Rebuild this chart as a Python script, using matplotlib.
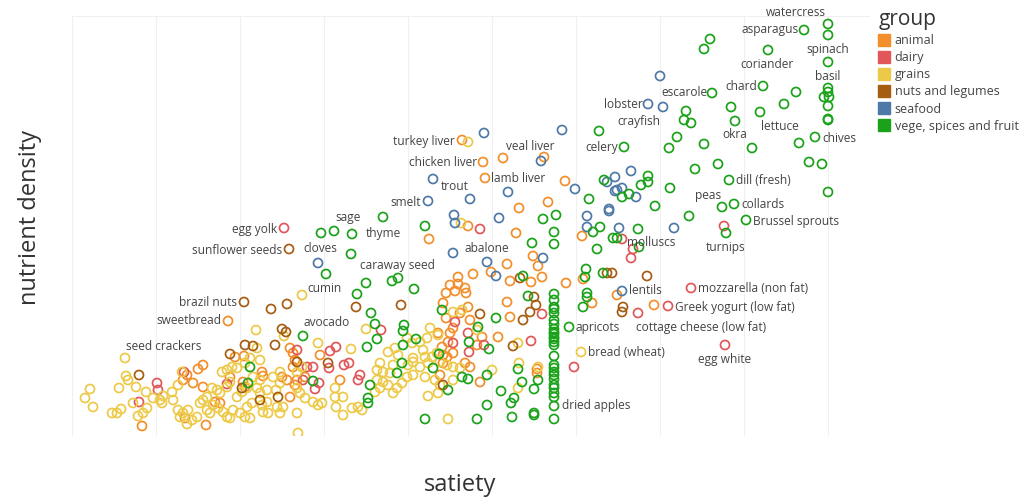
import numpy as np
import matplotlib.pyplot as plt
from matplotlib.lines import Line2D

plt.rcParams['font.family'] = ['Open Sans', 'DejaVu Sans']

# (satiety, nutrient density) per food group
vege = [(75.6, 41.2), (75.6, 40.1), (73.2, 40.6), (63.8, 39.7), (63.2, 38.7), (69.6, 38.6),
        (75.6, 37.4), (69.1, 35.0), (64.0, 34.3), (72.4, 34.4), (75.6, 34.8), (75.6, 34.4),
        (75.2, 33.9), (75.7, 33.9), (75.6, 33.0), (75.6, 31.7), (75.6, 31.6), (71.2, 33.2),
        (65.9, 32.9), (68.8, 32.4), (61.4, 32.5), (61.2, 31.6), (61.9, 31.3), (66.3, 31.5),
        (60.5, 29.9), (59.7, 28.8), (63.2, 29.2), (68.0, 28.8), (72.7, 29.3), (74.3, 29.9),
        (55.2, 28.9), (52.7, 30.5), (73.7, 27.4), (75.0, 27.2), (64.6, 27.2), (62.3, 26.7),
        (65.7, 25.6), (59.8, 24.8), (57.6, 26.0), (57.6, 25.4), (56.9, 25.1), (75.6, 24.4),
        (53.2, 25.6), (55.7, 24.2), (55.0, 23.9), (51.7, 23.7), (58.3, 23.0), (65.0, 22.9),
        (66.2, 23.2), (61.7, 22.0), (67.4, 21.6), (65.4, 20.3), (56.6, 20.7), (52.8, 20.9),
        (52.1, 20.4), (54.1, 19.8), (54.5, 19.8), (52.5, 18.7), (56.7, 18.9), (51.4, 16.7),
        (51.3, 15.9), (53.1, 16.3), (51.5, 14.3), (51.5, 13.9), (51.1, 12.9), (49.7, 10.9),
        (47.1, 21.7), (48.4, 22.1), (48.2, 20.4), (48.2, 19.2), (46.0, 19.3), (45.1, 16.0),
        (31.1, 21.9), (35.3, 21.0), (24.9, 20.3), (26.2, 20.5), (28.0, 20.2), (27.9, 18.2),
        (25.4, 16.2), (29.4, 15.3), (32.0, 15.5), (32.6, 15.8), (34.2, 14.7), (28.5, 14.2),
        (29.9, 12.3), (30.3, 11.2), (33.2, 11.1), (33.1, 10.5), (23.1, 10.0), (30.5, 9.7),
        (29.5, 8.9), (33.1, 9.1), (34.4, 9.7), (33.0, 7.3), (32.5, 6.3), (29.8, 5.1),
        (29.6, 3.8), (29.6, 3.3), (24.1, 5.5), (35.3, 1.7), (40.5, 1.7), (36.7, 8.2),
        (36.1, 6.8), (39.0, 5.9), (39.6, 5.7), (37.6, 4.6), (39.7, 9.4), (17.8, 6.9),
        (17.6, 5.3), (45.6, 14.0), (42.4, 11.8), (40.6, 10.9), (41.7, 8.7), (37.0, 12.6),
        (44.6, 6.7), (41.5, 6.1), (45.0, 5.4), (46.6, 5.6), (46.2, 4.7), (42.9, 4.5),
        (44.2, 3.8), (43.9, 3.3), (41.5, 3.1), (46.2, 2.3), (46.2, 2.1), (44.0, 1.9),
        (48.2, 14.2), (48.2, 13.6), (48.2, 12.9), (48.2, 12.7), (48.2, 12.3), (48.2, 11.6),
        (48.2, 11.2), (48.2, 10.7), (48.2, 10.4), (48.2, 10.2), (48.2, 9.9), (48.2, 9.7),
        (48.2, 9.4), (48.2, 9.1), (48.2, 8.0), (48.2, 7.1), (48.2, 6.8), (48.2, 6.4),
        (48.2, 6.1), (48.2, 5.7), (48.2, 5.1), (48.2, 4.8), (48.2, 4.3), (48.2, 3.9),
        (48.2, 3.0), (48.2, 1.7)]

dairy = [(21.2, 20.8), (40.8, 20.7), (65.2, 21.0), (55.0, 19.7), (56.1, 18.7), (55.9, 17.8),
         (61.9, 14.8), (59.6, 13.0), (56.6, 12.3), (65.3, 9.1), (47.0, 12.2), (45.9, 9.5),
         (41.2, 9.1), (50.2, 6.9), (38.3, 11.4), (39.6, 10.3), (30.9, 10.6), (6.7, 3.4),
         (8.5, 5.3), (8.6, 4.6), (11.2, 6.4), (15.5, 5.2), (22.5, 8.6), (23.5, 6.9),
         (23.1, 5.6), (25.8, 8.5), (26.4, 8.9), (24.1, 6.9), (27.2, 7.1), (27.7, 7.3),
         (28.8, 6.1), (28.6, 5.6), (24.3, 4.7), (24.7, 5.3), (25.7, 6.8), (38.1, 9.3),
         (39.7, 8.4)]

seafood = [(58.8, 36.0), (57.6, 33.2), (59.1, 32.9), (41.2, 30.3), (49.0, 30.6), (46.9, 27.5),
           (36.1, 25.7), (43.6, 24.4), (39.8, 23.7), (35.6, 23.5), (50.3, 24.7), (38.2, 22.1),
           (38.3, 21.3), (42.7, 21.8), (38.1, 18.3), (41.5, 17.4), (42.4, 16.0), (47.1, 17.8),
           (51.5, 22.0), (51.5, 20.9), (24.6, 17.3), (55.9, 26.5), (54.3, 25.9), (53.5, 25.4),
           (54.3, 24.5), (55.0, 24.8), (54.5, 24.6), (56.4, 23.9), (53.7, 22.7), (53.7, 22.5),
           (54.7, 20.8), (60.2, 20.8), (55.0, 14.5)]

animal = [(39.0, 29.6), (41.1, 27.4), (43.1, 27.8), (47.2, 27.9), (41.3, 25.8), (49.3, 25.5),
          (47.6, 23.4), (44.7, 22.8), (39.6, 21.0), (35.7, 19.7), (44.4, 20.3), (51.0, 20.0),
          (46.1, 18.0), (43.5, 17.2), (46.6, 17.0), (41.9, 16.4), (40.1, 16.2), (38.6, 15.9),
          (43.8, 15.5), (45.9, 15.4), (47.0, 15.9), (49.4, 15.3), (51.1, 15.7), (54.5, 14.1),
          (58.2, 13.1), (52.0, 13.3), (46.5, 6.7), (46.5, 6.3), (43.5, 13.4), (43.8, 11.9),
          (42.6, 9.9), (41.0, 9.9), (39.8, 6.9), (40.8, 5.4), (15.6, 11.5),
          (37.4, 14.3), (37.8, 15.1), (38.6, 15.2), (38.3, 14.5), (39.3, 14.8), (39.4, 14.3),
          (37.1, 13.3), (37.4, 11.8), (39.8, 11.6), (38.1, 10.8), (39.6, 12.9), (38.8, 12.3),
          (37.8, 10.3), (37.6, 9.4), (37.0, 8.9), (37.1, 8.1), (37.5, 7.9), (36.8, 6.1),
          (37.1, 7.3), (38.1, 8.3), (36.6, 10.3), (39.3, 7.3), (40.5, 9.1),
          (7.0, 1.0), (11.3, 1.8), (13.4, 1.1), (11.1, 5.6), (11.5, 6.1), (12.6, 6.7),
          (13.1, 7.1), (12.1, 5.3), (15.8, 5.9), (14.3, 3.4), (14.8, 3.3), (19.1, 6.0),
          (19.0, 6.4), (17.1, 5.4), (17.3, 4.9), (21.8, 8.8), (22.1, 8.3), (22.3, 7.6),
          (22.1, 6.9), (21.8, 3.9), (21.0, 5.9), (21.5, 5.6), (16.3, 7.9), (17.2, 8.0),
          (13.1, 4.9), (24.8, 8.1), (22.5, 5.6), (22.3, 5.1), (23.3, 5.9), (26.8, 5.6)]

grains = [(39.6, 29.4), (38.9, 21.3), (23.0, 14.1), (18.4, 10.6), (21.2, 10.0), (50.9, 8.4),
          (44.6, 9.3), (44.7, 7.3), (42.0, 6.6), (44.6, 4.8), (37.6, 1.7), (46.6, 6.9),
          (22.6, 0.3), (29.4, 10.7), (24.6, 9.3),
          (5.3, 7.8), (1.8, 4.7), (1.3, 3.8), (2.1, 2.9), (4.7, 4.8), (5.4, 6.0), (5.6, 5.6),
          (4.0, 2.3), (4.5, 2.3), (4.9, 2.7), (6.4, 4.9), (7.4, 4.4), (7.5, 2.8), (7.1, 2.3),
          (6.6, 2.0), (6.1, 3.3), (8.1, 3.8), (8.8, 3.6), (9.1, 4.0), (9.0, 3.3), (10.0, 4.4),
          (10.6, 5.1), (11.0, 6.4), (10.1, 3.6), (10.6, 2.6), (11.1, 2.3), (11.6, 2.6),
          (10.8, 1.9), (11.5, 1.2), (12.0, 1.6), (12.5, 1.9), (12.8, 3.3), (13.1, 3.6),
          (13.5, 3.9), (14.0, 4.8), (14.5, 4.6), (14.8, 4.3), (14.1, 3.1), (14.6, 2.8),
          (15.1, 2.4), (13.5, 2.6), (13.8, 2.3), (15.5, 1.9), (15.8, 1.8), (16.1, 2.6),
          (16.8, 2.3), (17.3, 1.9), (17.8, 1.8), (17.5, 2.9), (18.0, 3.3), (16.5, 3.9),
          (17.0, 4.4), (17.5, 4.8), (15.5, 4.9), (15.8, 5.4), (15.0, 6.4), (15.5, 6.6),
          (16.0, 6.9), (16.5, 6.8), (17.3, 7.3), (17.8, 7.8), (18.1, 5.9), (18.8, 5.6),
          (18.5, 4.8), (18.8, 4.3), (19.5, 4.6), (19.0, 3.1), (19.5, 3.4), (19.1, 2.4),
          (19.6, 2.3), (20.5, 2.9), (20.8, 2.3), (20.4, 4.6), (20.8, 5.3), (20.8, 6.4),
          (22.5, 6.4), (23.0, 6.9), (22.5, 4.8), (22.8, 4.3), (22.5, 2.3), (20.1, 5.9),
          (18.8, 7.6), (18.5, 8.8),
          (27.9, 8.7), (31.6, 8.4), (32.3, 8.8), (32.6, 8.1), (33.5, 9.8), (34.0, 9.3),
          (34.8, 9.4), (35.5, 9.8), (30.8, 7.3), (31.1, 6.4), (31.8, 6.3), (32.5, 4.8),
          (33.0, 5.3), (30.5, 5.6), (30.3, 4.4), (26.3, 4.8), (26.3, 3.9), (27.1, 3.9),
          (26.4, 2.9), (28.0, 2.8), (28.6, 2.9), (29.0, 2.6), (23.3, 3.8), (24.1, 3.4),
          (24.6, 3.1), (25.0, 3.3), (21.1, 2.9), (35.6, 4.0), (27.1, 2.1), (34.1, 7.4),
          (34.8, 6.9), (35.6, 7.3), (36.0, 7.9), (36.5, 8.3), (36.6, 4.3), (38.1, 5.6),
          (38.8, 6.8), (35.8, 10.8), (36.6, 10.1), (35.1, 8.6), (35.3, 7.9), (34.1, 7.8),
          (33.6, 7.1), (36.8, 7.4), (37.5, 7.1), (38.1, 6.9), (32.1, 7.1), (30.5, 6.6),
          (31.1, 5.4), (31.6, 5.1), (33.5, 5.9), (34.1, 6.1), (35.3, 5.9), (36.3, 5.6),
          (36.8, 5.1), (30.8, 4.8), (32.1, 4.3), (38.1, 12.4), (39.0, 12.6), (40.5, 10.6)]

nuts = [(21.7, 18.7), (17.2, 13.4), (19.9, 12.7), (21.5, 13.2), (21.0, 10.7), (21.4, 10.4),
        (28.4, 12.9), (32.9, 13.1), (6.7, 6.1), (17.3, 9.1), (18.1, 9.0), (20.3, 9.1),
        (15.8, 8.2), (17.0, 4.8), (18.8, 3.6), (20.6, 3.9), (22.5, 7.4), (25.6, 7.3),
        (37.1, 5.1), (40.8, 12.2), (44.1, 9.0), (46.2, 13.9), (46.4, 13.1), (45.8, 12.4),
        (45.1, 11.6), (44.8, 15.8), (53.5, 16.3), (54.0, 16.3), (57.5, 16.0), (55.1, 12.9),
        (55.0, 12.4)]

groups = ['animal', 'dairy', 'grains', 'nuts and legumes', 'seafood', 'vege, spices and fruit']
group_data = [animal, dairy, grains, nuts, seafood, vege]
colors = ['#F28E2B', '#E15759', '#EDC948', '#A65D12', '#4E79A7', '#1AA21A']

# point labels: text, satiety, nutrient density, alignment
labels = [('watercress', 72.4, 42.4, 'center'), ('asparagus', 72.7, 40.6, 'right'),
          ('spinach', 75.6, 38.6, 'center'), ('coriander', 69.5, 37.2, 'center'),
          ('basil', 75.6, 35.9, 'center'), ('chard', 68.5, 35.0, 'right'),
          ('escarole', 63.5, 34.3, 'right'), ('lobster', 57.1, 33.2, 'right'),
          ('crayfish', 56.7, 31.4, 'center'), ('celery', 54.6, 28.8, 'right'),
          ('okra', 66.3, 30.1, 'center'), ('lettuce', 70.8, 31.0, 'center'),
          ('chives', 75.0, 29.8, 'left'), ('turkey liver', 38.3, 29.4, 'right'),
          ('veal liver', 45.8, 29.0, 'center'), ('chicken liver', 40.5, 27.3, 'right'),
          ('lamb liver', 41.9, 25.7, 'left'), ('trout', 38.3, 24.9, 'center'),
          ('smelt', 34.9, 23.4, 'right'), ('sage', 27.6, 21.8, 'center'),
          ('thyme', 31.1, 20.3, 'center'), ('egg yolk', 20.5, 20.7, 'right'),
          ('sunflower seeds', 21.0, 18.6, 'right'), ('cloves', 24.8, 18.8, 'center'),
          ('abalone', 41.5, 18.8, 'center'), ('caraway seed', 32.5, 17.0, 'center'),
          ('cumin', 25.3, 14.7, 'center'), ('brazil nuts', 16.5, 13.4, 'right'),
          ('sweetbread', 14.9, 11.5, 'right'), ('avocado', 25.5, 11.3, 'center'),
          ('seed crackers', 9.2, 9.0, 'center'), ('molluscs', 57.9, 19.3, 'center'),
          ('turnips', 65.4, 18.8, 'center'), ('dill (fresh)', 66.4, 25.5, 'left'),
          ('peas', 63.6, 24.1, 'center'), ('collards', 66.9, 23.2, 'left'),
          ('Brussel sprouts', 68.1, 21.5, 'left'), ('lentils', 55.7, 14.6, 'left'),
          ('mozzarella (non fat)', 62.6, 14.8, 'left'),
          ('Greek yogurt (low fat)', 60.3, 12.9, 'left'),
          ('cottage cheese (low fat)', 62.9, 10.8, 'center'),
          ('apricots', 50.4, 10.8, 'left'), ('bread (wheat)', 51.6, 8.3, 'left'),
          ('egg white', 65.3, 7.6, 'center'), ('dried apples', 49.0, 3.0, 'left')]

fig = plt.figure(figsize=(10.24, 5.03), dpi=100)
ax = fig.add_axes([72 / 1024, 67 / 503, 798 / 1024, 420 / 503])

for pts, c in zip(group_data, colors):
    arr = np.array(pts)
    ax.scatter(arr[:, 0], arr[:, 1], s=42, facecolors='none', edgecolors=c,
               linewidths=1.25, zorder=3)

for txt, x, y, ha in labels:
    ax.text(x, y, txt, ha=ha, va='center', fontsize=8.6, color='#444444', zorder=4)

ax.set_xlim(0, 79.8)
ax.set_ylim(0, 42)
ax.set_xticks(np.arange(0, 79, 8.4))
ax.set_yticks([0, 42])
ax.tick_params(length=0, labelbottom=False, labelleft=False)
ax.grid(True, color='#f0f0f0', linewidth=0.8, zorder=0)
for s in ax.spines.values():
    s.set_visible(False)

fig.text(460 / 1024, 1 - 485 / 503, 'satiety', ha='center', va='center',
         fontsize=17, color='#333333')
fig.text(30 / 1024, 1 - 217 / 503, 'nutrient density', ha='center', va='center',
         rotation=90, fontsize=17, color='#333333')

handles = [Line2D([], [], marker='s', linestyle='none', markersize=8.5,
                  markerfacecolor=c, markeredgecolor=c) for c in colors]
leg = ax.legend(handles, groups, title='group', loc='upper left',
                bbox_to_anchor=(874 / 1024, 1 - 4 / 503), bbox_transform=fig.transFigure,
                frameon=False, fontsize=9, title_fontsize=15, handlelength=0.8,
                handletextpad=0.45, labelspacing=0.33, borderaxespad=0, alignment='left')
for t in leg.get_texts():
    t.set_color('#444444')
leg.get_title().set_color('#333333')

fig.savefig('out.png', dpi=100)
